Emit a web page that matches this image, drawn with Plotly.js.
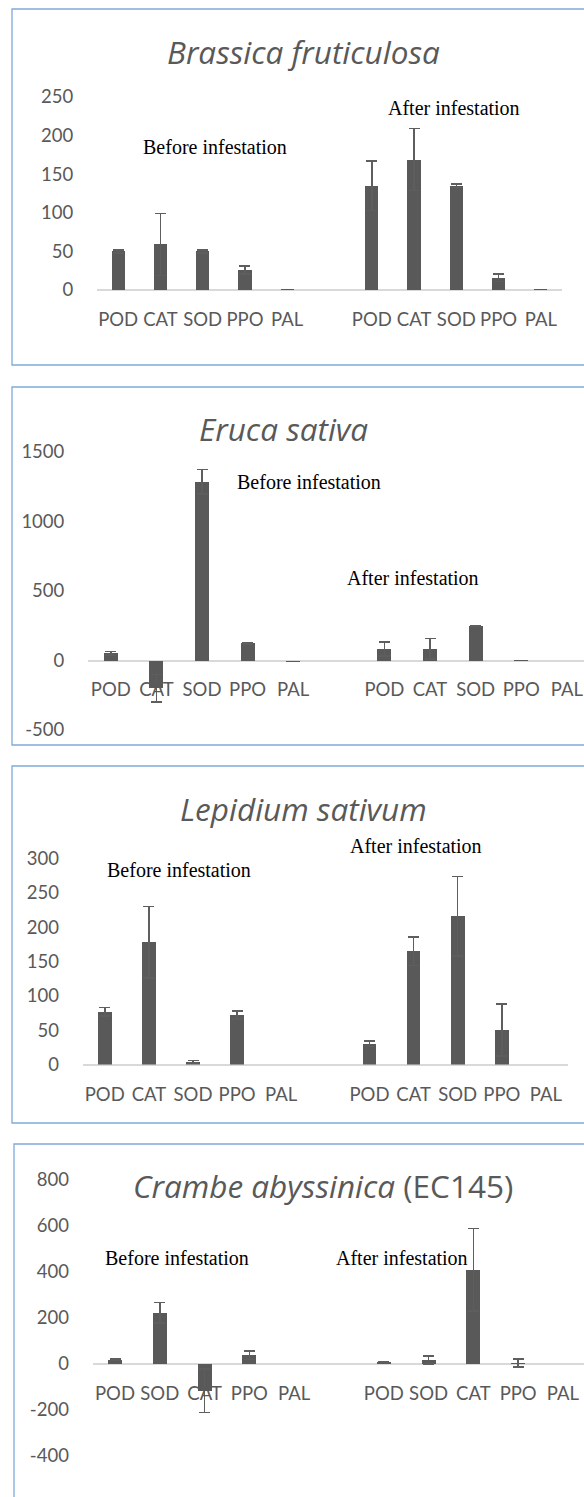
<!DOCTYPE html>
<html>
<head>
<meta charset="utf-8">
<script src="https://cdn.plot.ly/plotly-3.0.1.min.js"></script>
<style>
  html, body { margin: 0; padding: 0; background: #ffffff; overflow: hidden; }
  #chart { width: 584px; height: 1497px; }
</style>
</head>
<body>
<div id="chart"></div>
<script>
// Enzyme activity before and after infestation, four species.
const enzymes = ['POD', 'CAT', 'SOD', 'PPO', 'PAL'];
const enzymesCrambe = ['POD', 'SOD', 'CAT', 'PPO', 'PAL'];
const groupNames = ['Before infestation', 'After infestation'];

const brassicaBefore = [50, 59, 50, 26, 1.5];
const brassicaBeforeErr = [2, 40, 2, 5, null];
const brassicaAfter = [135, 169, 135, 16, 1.5];
const brassicaAfterErr = [32, 40, 2, 5, null];

const erucaBefore = [52, -200, 1285, 125, -10];
const erucaBeforeErr = [12, 100, 88, 5, null];
const erucaAfter = [84, 84, 250, 4, 0];
const erucaAfterErr = [50, 74, 3, null, null];

const lepidiumBefore = [77, 178, 4, 72, 0];
const lepidiumBeforeErr = [6, 52, 2, 6, null];
const lepidiumAfter = [30, 165, 216, 50, 0];
const lepidiumAfterErr = [4, 21, 58, 38, null];

const crambeBefore = [18, 223, -117, 38, 0];
const crambeBeforeErr = [3, 45, 94, 19, null];
const crambeAfter = [8, 18, 410, 4, 0];
const crambeAfterErr = [2, 18, 180, 17, null];

const W = 584, H = 1497;
const fx = x => x / W;
const fy = y => 1 - y / H;

const GREY = '#595959';
const TICK_FONT = { family: 'Lato, Carlito, sans-serif', size: 18.5, color: GREY };
const NOTE_FONT = { family: '"Liberation Serif", "Times New Roman", serif', size: 20, color: '#000000' };
const TITLE_FONT = { family: '"Open Sans", "Noto Sans", sans-serif', size: 31.5, color: GREY };

// Two groups of five enzymes with one empty slot between them.
const GAP = 1;
function slots(n) {
  const s = [];
  for (let i = 0; i < n; i++) s.push(i);
  for (let i = 0; i < n; i++) s.push(n + GAP + i);
  return s;
}

// Value ticks written with a plain hyphen for negatives.
function valueTicks(range, step) {
  const vals = [];
  for (let v = Math.ceil(range[0] / step) * step; v <= range[1] + 1e-9; v += step) vals.push(v);
  return { vals: vals, text: vals.map(v => String(v)) };
}

// Entries without an error bar are left out of the error array.
const errs = arr => arr.map(v => (v === null ? NaN : v));

const panels = [
  { title: '<i>Brassica fruticulosa</i>', names: enzymes,
    before: brassicaBefore, beforeErr: brassicaBeforeErr, after: brassicaAfter, afterErr: brassicaAfterErr,
    px: [97, 562], py: [97, 290], xr: [-0.5, 10.5], yr: [0, 250], dtick: 50, zeroY: 290,
    titleXY: [303, 51], notes: [[215, 147], [454, 108]] },
  { title: '<i>Eruca sativa</i>', names: enzymes,
    before: erucaBefore, beforeErr: erucaBeforeErr, after: erucaAfter, afterErr: erucaAfterErr,
    px: [88, 584], py: [452, 730], xr: [-0.5, 10.377], yr: [-500, 1500], dtick: 500, zeroY: 660,
    titleXY: [283, 428], notes: [[309, 482], [413, 578]] },
  { title: '<i>Lepidium sativum</i>', names: enzymes,
    before: lepidiumBefore, beforeErr: lepidiumBeforeErr, after: lepidiumAfter, afterErr: lepidiumAfterErr,
    px: [82.7, 568], py: [858.5, 1064.5], xr: [-0.5, 10.5], yr: [0, 300], dtick: 50, zeroY: 1064.5,
    titleXY: [303, 808], notes: [[179, 870], [416, 846]] },
  { title: '<i>Crambe abyssinica</i> (EC145)', names: enzymesCrambe,
    before: crambeBefore, beforeErr: crambeBeforeErr, after: crambeAfter, afterErr: crambeAfterErr,
    px: [92.6, 584], py: [1180, 1456], xr: [-0.5, 10.47], yr: [-400, 800], dtick: 200, zeroY: 1364,
    titleXY: [323, 1185], notes: [[176.5, 1258], [402, 1258]] }
];

// Panel frames (the right side runs past the page edge).
const frames = [[12, 9, 365], [12, 387, 745], [12, 766, 1123], [14, 1144, 1520]];

const data = [];
const layout = {
  width: W, height: H,
  margin: { l: 0, r: 0, t: 0, b: 0, pad: 0 },
  paper_bgcolor: '#ffffff', plot_bgcolor: 'rgba(0,0,0,0)',
  showlegend: false, bargap: 0,
  shapes: [], annotations: []
};

frames.forEach(([x0, y0, y1]) => {
  layout.shapes.push({
    type: 'rect', xref: 'paper', yref: 'paper',
    x0: fx(x0), x1: fx(W + 20), y0: fy(y0), y1: fy(y1),
    line: { color: '#7eaadb', width: 1.3 }, fillcolor: 'rgba(0,0,0,0)', layer: 'below'
  });
});

panels.forEach((p, k) => {
  const n = p.names.length;
  const sfx = k === 0 ? '' : String(k + 1);
  const xs = slots(n);
  data.push({
    type: 'bar',
    x: xs,
    y: p.before.concat(p.after),
    width: 0.31,
    xaxis: 'x' + sfx, yaxis: 'y' + sfx,
    marker: { color: GREY, line: { width: 0 } },
    error_y: {
      type: 'data', symmetric: true,
      array: errs(p.beforeErr.concat(p.afterErr)),
      color: '#5e5e5e', thickness: 1.6, width: 5.5
    },
    hoverinfo: 'skip'
  });

  const xAxisBottom = p.yr[0] === 0;
  const xa = {
    domain: [fx(p.px[0]), fx(p.px[1])],
    range: p.xr,
    anchor: xAxisBottom ? 'y' + sfx : 'free',
    tickmode: 'array', tickvals: xs, ticktext: p.names.concat(p.names),
    ticks: 'outside', ticklen: 13, tickcolor: 'rgba(0,0,0,0)',
    showline: false, showgrid: false, zeroline: false,
    tickfont: TICK_FONT, fixedrange: true
  };
  if (!xAxisBottom) xa.position = fy(p.zeroY);
  layout['xaxis' + sfx] = xa;

  const yt = valueTicks(p.yr, p.dtick);
  layout['yaxis' + sfx] = {
    domain: [fy(p.py[1]), fy(p.py[0])],
    range: p.yr,
    tickmode: 'array', tickvals: yt.vals, ticktext: yt.text,
    anchor: 'x' + sfx,
    ticks: 'outside', ticklen: 19, tickcolor: 'rgba(0,0,0,0)',
    showline: false, showgrid: false,
    zeroline: true, zerolinecolor: '#d9d9d9', zerolinewidth: 2,
    tickfont: TICK_FONT, fixedrange: true
  };

  layout.annotations.push({
    xref: 'paper', yref: 'paper', x: fx(p.titleXY[0]), y: fy(p.titleXY[1]),
    xanchor: 'center', yanchor: 'middle', showarrow: false,
    text: p.title, font: TITLE_FONT
  });
  p.notes.forEach((pt, g) => {
    layout.annotations.push({
      xref: 'paper', yref: 'paper', x: fx(pt[0]), y: fy(pt[1]),
      xanchor: 'center', yanchor: 'middle', showarrow: false,
      text: groupNames[g], font: NOTE_FONT
    });
  });
});

Plotly.newPlot('chart', data, layout, { staticPlot: true, displayModeBar: false });
</script>
</body>
</html>
